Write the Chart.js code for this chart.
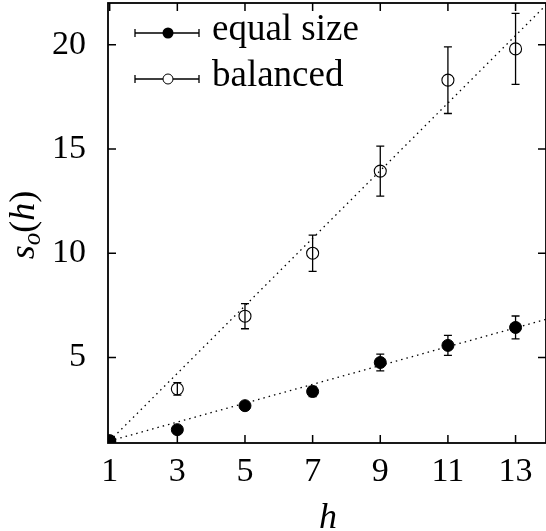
<!DOCTYPE html>
<html lang="en">
<head>
<meta charset="UTF-8">
<title>s_o(h) vs h</title>
<style>
  html, body { margin: 0; padding: 0; background: #fff; }
  #chart { display: block; }
</style>
</head>
<body>
<canvas id="chart" width="546" height="531"></canvas>
<script src="https://cdn.jsdelivr.net/npm/chart.js"></script>
<script>
// data
var hValues = [1, 3, 5, 7, 9, 11, 13];
var equalSize = [1, 1.54, 2.69, 3.37, 4.76, 5.58, 6.44];
var equalErr = [0, 0.1, 0.15, 0.25, 0.4, 0.48, 0.55];
var balanced = [1, 3.5, 6.98, 10.0, 13.94, 18.3, 19.8];
var balancedErr = [0, 0.3, 0.6, 0.87, 1.2, 1.6, 1.7];
var fitH = [1, 13.9];
var equalFit = [1, 6.83];
var balancedFit = [1, 21.9];
var xTicks = [1, 3, 5, 7, 9, 11, 13];
var yTicks = [5, 10, 15, 20];

var FONT = '"Liberation Serif", "DejaVu Serif", serif';

function pts(xs, ys) {
  return xs.map(function (x, i) { return { x: x, y: ys[i] }; });
}

// frame, inward ticks, error bars, legend and axis titles
var extras = {
  id: 'extras',
  afterDatasetsDraw: function (chart) {
    var ctx = chart.ctx;
    var a = chart.chartArea;
    var xs = chart.scales.x, ys = chart.scales.y;
    ctx.save();
    ctx.strokeStyle = '#000';

    // error bars
    ctx.lineWidth = 1.3;
    function bars(vals, errs) {
      hValues.forEach(function (h, i) {
        if (!errs[i]) return;
        var px = xs.getPixelForValue(h);
        var top = ys.getPixelForValue(vals[i] + errs[i]);
        var bot = ys.getPixelForValue(vals[i] - errs[i]);
        ctx.beginPath();
        ctx.moveTo(px, top); ctx.lineTo(px, bot);
        ctx.moveTo(px - 4, top); ctx.lineTo(px + 4, top);
        ctx.moveTo(px - 4, bot); ctx.lineTo(px + 4, bot);
        ctx.stroke();
      });
    }
    bars(equalSize, equalErr);
    bars(balanced, balancedErr);

    // frame
    ctx.lineWidth = 1.8;
    ctx.strokeRect(a.left, a.top, a.right - a.left, a.bottom - a.top);

    // inward ticks
    ctx.lineWidth = 1.5;
    ctx.beginPath();
    xTicks.forEach(function (v) {
      var px = xs.getPixelForValue(v);
      ctx.moveTo(px, a.bottom); ctx.lineTo(px, a.bottom - 8);
      ctx.moveTo(px, a.top); ctx.lineTo(px, a.top + 8);
    });
    yTicks.forEach(function (v) {
      var py = ys.getPixelForValue(v);
      ctx.moveTo(a.left, py); ctx.lineTo(a.left + 8, py);
      ctx.moveTo(a.right, py); ctx.lineTo(a.right - 8, py);
    });
    ctx.stroke();

    // legend
    var rows = [
      { y: 33, label: 'equal size', fill: true },
      { y: 79, label: 'balanced', fill: false }
    ];
    rows.forEach(function (r) {
      ctx.lineWidth = 1.3;
      ctx.beginPath();
      ctx.moveTo(135, r.y); ctx.lineTo(199, r.y);
      ctx.moveTo(135, r.y - 4); ctx.lineTo(135, r.y + 4);
      ctx.moveTo(199, r.y - 4); ctx.lineTo(199, r.y + 4);
      ctx.stroke();
      ctx.beginPath();
      ctx.arc(168, r.y, r.fill ? 5.5 : 5, 0, Math.PI * 2);
      if (r.fill) { ctx.fillStyle = '#000'; ctx.fill(); }
      else { ctx.fillStyle = '#fff'; ctx.fill(); ctx.lineWidth = 1; ctx.stroke(); }
      ctx.fillStyle = '#000';
      ctx.font = '37px ' + FONT;
      ctx.textAlign = 'left';
      ctx.textBaseline = 'alphabetic';
      ctx.fillText(r.label, 212, r.y + 7);
    });

    // x title
    ctx.font = 'italic 36px ' + FONT;
    ctx.textAlign = 'center';
    ctx.fillText('h', 328, 528);

    // y title: s_o(h)
    ctx.translate(34, 225);
    ctx.rotate(-Math.PI / 2);
    var parts = [
      { t: 's', f: 'italic 36px ', dy: 0 },
      { t: 'o', f: 'italic 25px ', dy: 6 },
      { t: '(', f: '36px ', dy: 0 },
      { t: 'h', f: 'italic 36px ', dy: 0 },
      { t: ')', f: '36px ', dy: 0 }
    ];
    var total = 0;
    parts.forEach(function (p) { ctx.font = p.f + FONT; p.w = ctx.measureText(p.t).width; total += p.w; });
    var cx = -total / 2;
    ctx.textAlign = 'left';
    parts.forEach(function (p) {
      ctx.font = p.f + FONT;
      ctx.fillText(p.t, cx, p.dy);
      cx += p.w;
    });
    ctx.restore();
  }
};

function noPad(s) {
  s.paddingLeft = 0; s.paddingRight = 0; s.paddingTop = 0; s.paddingBottom = 0;
}

new Chart(document.getElementById('chart'), {
  type: 'scatter',
  data: {
    datasets: [
      {
        type: 'line',
        data: pts(fitH, balancedFit),
        borderColor: '#000',
        borderWidth: 1.3,
        borderDash: [1.5, 4],
        pointRadius: 0,
        fill: false
      },
      {
        type: 'line',
        data: pts(fitH, equalFit),
        borderColor: '#000',
        borderWidth: 1.3,
        borderDash: [1.5, 4],
        pointRadius: 0,
        fill: false
      },
      {
        label: 'equal size',
        data: pts(hValues, equalSize),
        pointRadius: 6,
        pointBackgroundColor: '#000',
        pointBorderColor: '#000',
        pointBorderWidth: 1
      },
      {
        label: 'balanced',
        data: pts(hValues, balanced),
        pointRadius: 6,
        pointBackgroundColor: 'rgba(0,0,0,0)',
        pointBorderColor: '#000',
        pointBorderWidth: 1.1
      }
    ]
  },
  options: {
    responsive: false,
    animation: false,
    devicePixelRatio: 1,
    layout: { autoPadding: false, padding: { top: 3, right: 0, left: 0, bottom: 0 } },
    plugins: { legend: { display: false }, tooltip: { enabled: false } },
    scales: {
      x: {
        type: 'linear',
        min: 0.95,
        max: 13.9,
        grid: { display: false },
        border: { display: false },
        afterBuildTicks: function (s) { s.ticks = xTicks.map(function (v) { return { value: v }; }); },
        afterFit: function (s) { s.height = 88; noPad(s); },
        ticks: { color: '#000', font: { family: FONT, size: 34 }, padding: 1, maxRotation: 0 }
      },
      y: {
        type: 'linear',
        min: 0.9,
        max: 22,
        grid: { display: false },
        border: { display: false },
        afterBuildTicks: function (s) { s.ticks = yTicks.map(function (v) { return { value: v }; }); },
        afterFit: function (s) { s.width = 108; noPad(s); },
        ticks: { color: '#000', font: { family: FONT, size: 34 }, padding: 14 }
      }
    }
  },
  plugins: [extras]
});
</script>
</body>
</html>
